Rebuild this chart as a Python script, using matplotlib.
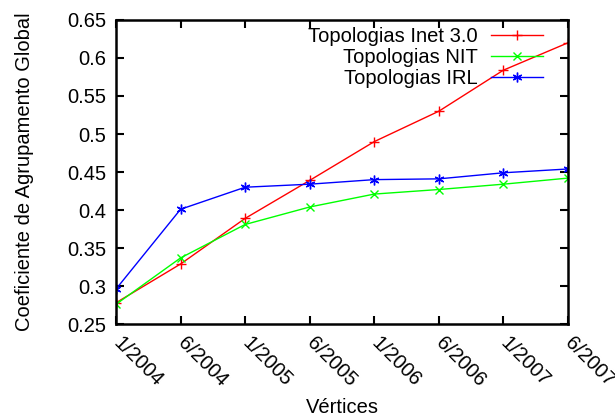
import matplotlib
matplotlib.use('Agg')
import matplotlib.pyplot as plt

plt.rcParams['font.family'] = ['Liberation Sans', 'DejaVu Sans']

# Dados
datas = ['1/2004', '6/2004', '1/2005', '6/2005', '1/2006', '6/2006', '1/2007', '6/2007']
inet = [0.278, 0.329, 0.389, 0.439, 0.490, 0.530, 0.584, 0.620]
nit = [0.276, 0.337, 0.381, 0.404, 0.421, 0.427, 0.434, 0.442]
irl = [0.296, 0.401, 0.430, 0.434, 0.440, 0.441, 0.449, 0.454]
y_ticks = [0.25, 0.3, 0.35, 0.4, 0.45, 0.5, 0.55, 0.6, 0.65]

fs = 14.5
fig = plt.figure(figsize=(6.15, 4.16), dpi=100)
ax = fig.add_axes([0.1886, 0.221, 0.735, 0.731])

x = list(range(len(datas)))
ax.plot(x, inet, color='#ff0000', lw=1, marker='+', ms=7, mew=1, label='Topologias Inet 3.0')
ax.plot(x, nit, color='#00ff00', lw=1, marker='x', ms=6, mew=1, label='Topologias NIT')
ax.plot(x, irl, color='#0000ff', lw=1, marker=(6, 2, 0), ms=7, mew=1, label='Topologias IRL')

ax.set_xlim(0, len(datas) - 1)
ax.set_ylim(0.25, 0.65)
ax.set_yticks(y_ticks)
ax.set_yticklabels([f'{v:g}' for v in y_ticks])
ax.set_xticks(x)
ax.set_xticklabels(datas, rotation=-45, ha='left', va='center', rotation_mode='anchor')

ax.tick_params(direction='in', length=6, width=1.5, top=True, right=True,
               labelsize=fs)
ax.tick_params(axis='y', pad=7)
ax.tick_params(axis='x', pad=11.5)
for s in ax.spines.values():
    s.set_linewidth(1.8)

ax.set_xlabel('Vértices', fontsize=fs, va='top')
ax.xaxis.set_label_coords(0.5, -0.243)
ax.set_ylabel('Coeficiente de Agrupamento Global', fontsize=fs, labelpad=24)

ax.legend(loc='upper right', frameon=False, markerfirst=False, fontsize=fs,
          handlelength=2.6, handletextpad=0.65, labelspacing=0.1,
          borderpad=0, borderaxespad=0, bbox_to_anchor=(0.945, 0.978))

fig.savefig('out.png', dpi=100)
